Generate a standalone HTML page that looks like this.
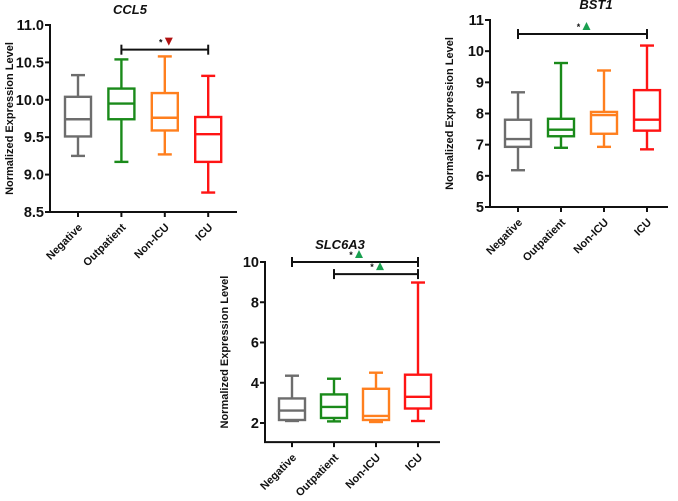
<!DOCTYPE html>
<html><head><meta charset="utf-8"><style>
html,body{margin:0;padding:0;background:#fff;}
svg{display:block;font-family:"Liberation Sans",Arial,sans-serif;}
</style></head><body>
<svg id="c" width="678" height="501" viewBox="0 0 678 501"></svg>
<script>
const categories = ["Negative","Outpatient","Non-ICU","ICU"];
const colors = ["#6d6d6d","#1a8a1a","#ff7f1e","#ff1414"];
// [whiskerLow, q1, median, q3, whiskerHigh]
const ccl5Values = [[9.25,9.51,9.74,10.04,10.33],[9.17,9.74,9.95,10.15,10.54],[9.27,9.59,9.76,10.09,10.58],[8.76,9.17,9.54,9.77,10.32]];
const ccl5Ticks = [8.5,9.0,9.5,10.0,10.5,11.0];
const bst1Values = [[6.18,6.93,7.18,7.8,8.68],[6.9,7.27,7.48,7.83,9.62],[6.93,7.35,7.95,8.05,9.38],[6.85,7.45,7.8,8.75,10.18]];
const bst1Ticks = [5,6,7,8,9,10,11];
const slcValues = [[2.1,2.15,2.62,3.22,4.35],[2.08,2.25,2.8,3.42,4.2],[2.05,2.15,2.35,3.7,4.5],[2.1,2.72,3.3,4.4,8.98]];
const slcTicks = [2,4,6,8,10];
const ccl5Sig = [[1,3,10.67,"down","#b01010"]];
const bst1Sig = [[0,3,10.55,"up","#1aa050"]];
const slcSig = [[0,3,10,"up","#1aa050"],[1,3,9.4,"up","#1aa050"]];

const NS="http://www.w3.org/2000/svg";
const svg=document.getElementById('c');
function mk(tag,attrs,parent){const e=document.createElementNS(NS,tag);for(const k in attrs)e.setAttribute(k,attrs[k]);(parent||svg).appendChild(e);return e;}

function panel(name,title,vals,ticks,sig,cfg){
  const g=mk('g',{});
  
  
  const ymax=cfg.ymax;
  const y=v=>cfg.yTop+(ymax-v)/(ymax-ticks[0])*(cfg.yBot-cfg.yTop);
  const axBottom=y(cfg.axisMin);
  const x=i=>cfg.x0+i*cfg.dx;
  const t=mk('text',{x:cfg.titleX,y:cfg.titleY,'text-anchor':'middle','font-size':13,'font-weight':'bold','font-style':'italic',fill:'#111'},g);
  t.textContent=title;
  
  
  const ya=mk('line',{x1:cfg.ax,x2:cfg.ax,y1:y(ymax)-1,y2:axBottom,stroke:'#111','stroke-width':2},g);
  
  
  const xa=mk('line',{x1:cfg.ax-1,x2:cfg.axEnd,y1:axBottom,y2:axBottom,stroke:'#111','stroke-width':2},g);
  
  
  ticks.forEach(v=>{
    mk('line',{x1:cfg.ax-5,x2:cfg.ax,y1:y(v),y2:y(v),stroke:'#111','stroke-width':2},g);
    const tl=mk('text',{x:cfg.ax-6,y:y(v)+5,'text-anchor':'end','font-size':14.5,'font-weight':'bold',fill:'#111'},g);
    tl.textContent=cfg.dec?v.toFixed(1):String(v);
    
    
  });
  const yt=mk('text',{transform:`translate(${cfg.ax-37},${(y(ymax)+axBottom)/2}) rotate(-90)`,'text-anchor':'middle','font-size':11,'font-weight':'bold',fill:'#111'},g);
  yt.textContent='Normalized Expression Level';
  
  
  categories.forEach((c,i)=>{
    mk('line',{x1:x(i),x2:x(i),y1:axBottom,y2:axBottom+5,stroke:'#111','stroke-width':2},g);
    const cl=mk('text',{transform:`translate(${x(i)+5},${axBottom+16}) rotate(-45)`,'text-anchor':'end','font-size':11,'font-weight':'bold',fill:'#111'},g);
    cl.textContent=c;
    
    
    const d=vals[i], col=colors[i], hw=13, cw=7;
    const b=mk('g',{stroke:col,'stroke-width':2.4,fill:'none'},g);
    
    
    mk('line',{x1:x(i),x2:x(i),y1:y(d[0]),y2:y(d[1])},b);
    mk('line',{x1:x(i),x2:x(i),y1:y(d[3]),y2:y(d[4])},b);
    mk('line',{x1:x(i)-cw,x2:x(i)+cw,y1:y(d[0]),y2:y(d[0])},b);
    mk('line',{x1:x(i)-cw,x2:x(i)+cw,y1:y(d[4]),y2:y(d[4])},b);
    mk('rect',{x:x(i)-hw,y:y(d[3]),width:2*hw,height:y(d[1])-y(d[3])},b);
    mk('line',{x1:x(i)-hw,x2:x(i)+hw,y1:y(d[2]),y2:y(d[2])},b);
  });
  sig.forEach(s=>{
    const sg=mk('g',{},g);
    
    
    const yy=y(s[2]), a=x(s[0]), bb=x(s[1]), m=(a+bb)/2;
    mk('line',{x1:a,x2:bb,y1:yy,y2:yy,stroke:'#111','stroke-width':2},sg);
    mk('line',{x1:a,x2:a,y1:yy-5,y2:yy+5,stroke:'#111','stroke-width':2},sg);
    mk('line',{x1:bb,x2:bb,y1:yy-5,y2:yy+5,stroke:'#111','stroke-width':2},sg);
    const st=mk('text',{x:m-4,y:yy-4,'text-anchor':'middle','font-size':9,'font-weight':'bold',fill:'#111'},sg);
    st.textContent='*';
    const tx=m+4, ty=yy-8;
    const pts=s[3]==='up'?`${tx-4},${ty+4} ${tx+4},${ty+4} ${tx},${ty-4}`:`${tx-4},${ty-4} ${tx+4},${ty-4} ${tx},${ty+4}`;
    mk('polygon',{points:pts,fill:s[4]},sg);
  });
}
panel('ccl5','CCL5',ccl5Values,ccl5Ticks,ccl5Sig,{ymax:11,axisMin:8.5,yTop:25,yBot:212,ax:50,axEnd:237,x0:78,dx:43.4,titleX:130,titleY:14,dec:true});
panel('bst1','BST1',bst1Values,bst1Ticks,bst1Sig,{ymax:11,axisMin:5,yTop:20,yBot:207,ax:490,axEnd:668,x0:518,dx:43,titleX:596,titleY:9,dec:false});
panel('slc6a3','SLC6A3',slcValues,slcTicks,slcSig,{ymax:10,axisMin:1.05,yTop:262,yBot:423,ax:265,axEnd:440,x0:292,dx:42,titleX:340,titleY:249,dec:false});
</script>
</body></html>
